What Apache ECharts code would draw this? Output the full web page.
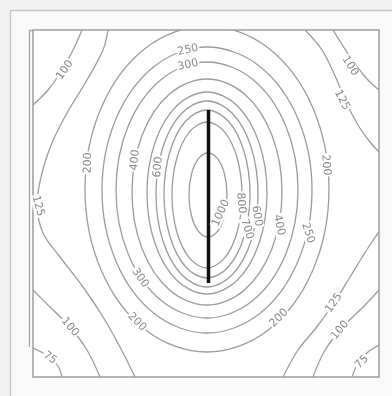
<!DOCTYPE html>
<html>
<head>
<meta charset="utf-8">
<script src="https://cdn.jsdelivr.net/npm/echarts@6/dist/echarts.min.js"></script>
<style>
html, body { margin: 0; padding: 0; background: #f2f2f2; }
#chart { width: 392px; height: 396px; }
</style>
</head>
<body>
<div id="chart"></div>
<script>
// plan units (room drawn 33..379 x 30..377)
const lampX = [208.5, 208.5]
const lampY = [110, 283]

const c1000 = [[227,195],[224.5,216],[217.5,231.4],[208,237],[198.5,231.4],[191.5,216],[189,195],[191.5,174],[198.5,158.6],[208,153],[217.5,158.6],[224.5,174]]
const c800 = [[242,195],[237.3,231.5],[224.5,258.2],[207,268],[189.5,258.2],[176.7,231.5],[172,195],[176.7,158.5],[189.5,131.8],[207,122],[224.5,131.8],[237.3,158.5]]
const c700 = [[250,194],[244.2,236],[228.5,266.7],[207,278],[185.5,266.7],[169.8,236],[164,194],[169.8,152],[185.5,121.3],[207,110],[228.5,121.3],[244.2,152]]
const c600 = [[258,194],[251.2,240.5],[232.5,274.5],[207,287],[181.5,274.5],[162.8,240.5],[156,194],[162.8,147.5],[181.5,113.5],[207,101],[232.5,113.5],[251.2,147.5]]
const c500 = [[267,193],[259,243.5],[237,280.5],[207,294],[177,280.5],[155,243.5],[147,193],[155,142.5],[177,105.5],[207,92],[237,105.5],[259,142.5]]
const c400 = [[282,192],[272,248.5],[244.5,289.9],[207,305],[169.5,289.9],[142,248.5],[132,192],[142,135.5],[169.5,94.1],[207,79],[244.5,94.1],[272,135.5]]
const c300 = [[298,190],[285.8,254],[252.5,300.8],[207,318],[161.5,300.8],[128.2,254],[116,190],[128.2,126],[161.5,79.2],[207,62],[252.5,79.2],[285.8,126]]
const c250 = [[312,190],[297.9,261.5],[259.5,313.8],[207,333],[154.5,313.8],[116.1,261.5],[102,190],[116.1,118.5],[154.5,66.2],[207,47],[259.5,66.2],[297.9,118.5]]
const c200 = [[329,189],[312.7,270.5],[268,330.2],[207,352],[146,330.2],[101.3,270.5],[85,189],[101.3,107.5],[146,47.8],[207,26],[268,47.8],[312.7,107.5]]

// open contours in the corners
const tl100 = [[82,30],[74,48],[62,70],[48,90],[33,105]]
const l125 = [[108,30],[103,50],[87,80],[67,113],[52,143],[42,173],[37,205],[43,233],[60,257],[83,287],[103,317],[120,347],[135,377]]
const bl100 = [[33,290],[50,307],[70,327],[87,350],[100,377]]
const bl75 = [[33,348],[48,356],[58,366],[62,377]]
const tr100 = [[333,30],[343,46],[355,64],[367,79],[379,90]]
const tr125 = [[305,30],[322,50],[336,78],[345,100],[358,125],[370,142],[379,152]]
const br125 = [[379,232],[368,248],[350,277],[334,303],[316,328],[298,350],[283,377]]
const br100 = [[379,290],[365,305],[340,330],[324,352],[313,377]]
const br75 = [[379,345],[368,352],[358,363],[352,377]]

// contour labels
const labelText = ['100','125','200','400','600','250','300','100','125','200','1000','800','700','600','400','250','300','200','100','75','200','125','100','75']
const labelX = [65, 38, 88, 135, 158, 188, 188, 350, 342, 326, 221, 241, 247, 257, 279, 308, 140, 137, 70, 50, 279, 334, 340, 362]
const labelY = [70, 206, 163, 160, 167, 50, 65, 66, 100, 165, 213, 203, 229, 216, 225, 233, 278, 322, 327, 358, 318, 303, 330, 362]
const labelRot = [55, -75, 88, 85, 85, 12, 12, -58, -62, -85, 65, -85, -72, -80, -78, -72, -55, -45, -50, -35, 45, 55, 50, 45]

const closed = [c1000, c800, c700, c600, c500, c400, c300, c250, c200]
const open = [tl100, l125, bl100, bl75, tr100, tr125, br125, br100, br75]
const contours = closed.map(p => ({ pts: p, closed: true }))
  .concat(open.map(p => ({ pts: p, closed: false })))

const chart = echarts.init(document.getElementById('chart'))
chart.setOption({
  animation: false,
  backgroundColor: '#f2f2f2',
  graphic: [{
    type: 'rect',
    z: -1,
    shape: { x: 10.5, y: 10.5, width: 400, height: 400 },
    style: { fill: '#fafafa', stroke: '#c9c9c9', lineWidth: 1.5 }
  }, {
    type: 'polyline',
    z: 10,
    shape: { points: [[29.5, 347], [29.5, 30.5], [34, 30.5]] },
    style: { fill: 'none', stroke: '#a8a8a8', lineWidth: 1.3 }
  }],
  grid: {
    left: 33, top: 30, width: 346, height: 347,
    show: true, backgroundColor: '#fff', borderColor: '#9d9d9d', borderWidth: 1.5
  },
  xAxis: { type: 'value', min: 33, max: 379, show: false },
  yAxis: { type: 'value', min: 30, max: 377, inverse: true, show: false },
  series: [{
    type: 'custom',
    coordinateSystem: 'cartesian2d',
    clip: true,
    silent: true,
    data: contours.map(c => c.pts[0]),
    renderItem: function (params, api) {
      const c = contours[params.dataIndex]
      const pts = c.pts.map(p => api.coord(p))
      return {
        type: c.closed ? 'polygon' : 'polyline',
        shape: { points: pts, smooth: 0.35 },
        style: { fill: 'none', stroke: '#9c9c9c', lineWidth: 1.3 }
      }
    }
  }, {
    type: 'line',
    data: lampX.map((x, i) => [x, lampY[i]]),
    symbol: 'none',
    z: 5,
    lineStyle: { color: '#111', width: 3.5 }
  }, {
    type: 'custom',
    coordinateSystem: 'cartesian2d',
    silent: true,
    z: 6,
    data: labelX.map((x, i) => [x, labelY[i]]),
    renderItem: function (params, api) {
      const i = params.dataIndex
      const p = api.coord([labelX[i], labelY[i]])
      return {
        type: 'text',
        x: p[0], y: p[1],
        rotation: labelRot[i] * Math.PI / 180,
        style: {
          text: labelText[i],
          fill: '#8a8a8a',
          font: '11px "Liberation Sans Narrow", "DejaVu Sans"',
          align: 'center',
          verticalAlign: 'middle',
          backgroundColor: '#fff',
          padding: [0, 1]
        }
      }
    }
  }]
})
</script>
</body>
</html>
